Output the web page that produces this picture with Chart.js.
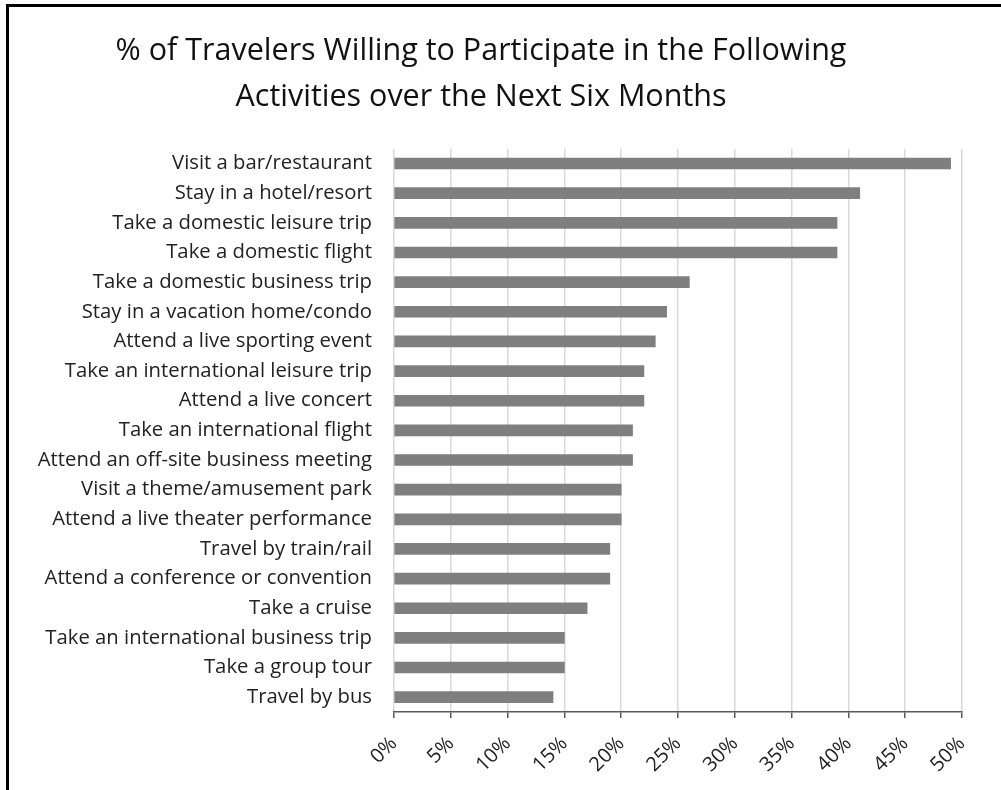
<!DOCTYPE html>
<html>
<head>
<meta charset="utf-8">
<script src="https://cdn.jsdelivr.net/npm/chart.js@4"></script>
<style>
  body { margin: 0; background: #fff; }
  #wrap { position: relative; width: 1001px; height: 790px; overflow: hidden; }
  #frame { position: absolute; left: 6px; top: 4px; width: 1100px; height: 900px; border: 3px solid #000; box-sizing: border-box; }
  canvas { position: absolute; left: 0; top: 0; }
</style>
</head>
<body>
<div id="wrap">
  <div id="frame"></div>
  <canvas id="chart" width="1001" height="790"></canvas>
</div>
<script>
const activities = [
  "Visit a bar/restaurant",
  "Stay in a hotel/resort",
  "Take a domestic leisure trip",
  "Take a domestic flight",
  "Take a domestic business trip",
  "Stay in a vacation home/condo",
  "Attend a live sporting event",
  "Take an international leisure trip",
  "Attend a live concert",
  "Take an international flight",
  "Attend an off-site business meeting",
  "Visit a theme/amusement park",
  "Attend a live theater performance",
  "Travel by train/rail",
  "Attend a conference or convention",
  "Take a cruise",
  "Take an international business trip",
  "Take a group tour",
  "Travel by bus"
];
const willing = [49, 41, 39, 39, 26, 24, 23, 22, 22, 21, 21, 20, 20, 19, 19, 17, 15, 15, 14];

const titleLines = [
  "% of Travelers Willing to Participate in the Following",
  "Activities over the Next Six Months"
];

const fontFam = "'Open Sans', Lato, sans-serif";

new Chart(document.getElementById("chart"), {
  type: "bar",
  data: {
    labels: activities,
    datasets: [{
      data: willing,
      backgroundColor: "#7f7f7f",
      barThickness: 11
    }]
  },
  options: {
    indexAxis: "y",
    responsive: false,
    animation: false,
    layout: { padding: { left: 0, right: 39, top: 0, bottom: 0 } },
    plugins: {
      legend: { display: false },
      tooltip: { enabled: false },
      title: {
        display: true,
        text: titleLines,
        color: "#111",
        font: { family: fontFam, size: 30.5, weight: "normal", lineHeight: 1.52 },
        padding: { top: 28, bottom: 28 }
      }
    },
    scales: {
      x: {
        min: 0,
        max: 50,
        ticks: {
          stepSize: 5,
          callback: v => v + "%",
          minRotation: 45,
          maxRotation: 45,
          color: "#222",
          padding: 14,
          font: { family: fontFam, size: 20 }
        },
        grid: { color: "#d9d9d9", lineWidth: 1.5, tickColor: "#595959", tickLength: 6 },
        border: { display: true, color: "#595959", width: 1.5 },
        afterFit: s => { s.height = 78; }
      },
      y: {
        ticks: {
          color: "#222",
          padding: 22,
          autoSkip: false,
          font: { family: fontFam, size: 20.3 }
        },
        grid: { display: false, drawTicks: false },
        border: { display: false },
        afterFit: s => { s.width = 394; }
      }
    }
  }
});
</script>
</body>
</html>
